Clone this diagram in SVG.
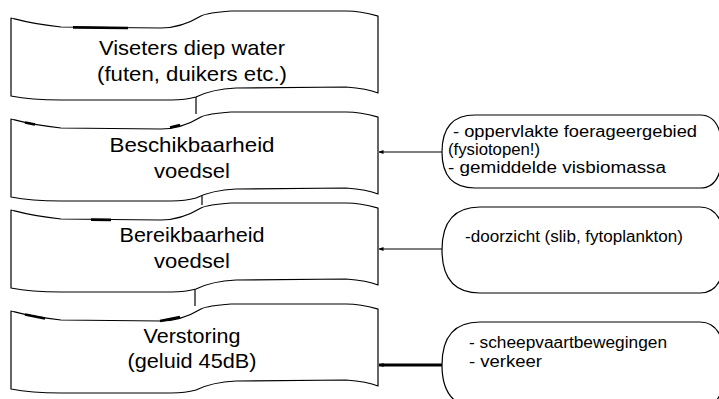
<svg xmlns="http://www.w3.org/2000/svg" xmlns:xlink="http://www.w3.org/1999/xlink" width="719" height="399" viewBox="0 0 719 399">
<style>
.shape{fill:#fff;stroke:#000;stroke-width:1.2;stroke-linejoin:round}
.thick{fill:none;stroke:#000;stroke-width:2.6}
.conn{fill:none;stroke:#000;stroke-width:1.2}
.bold{stroke-width:3}
.t{font-family:"Liberation Sans",Arial,sans-serif;font-size:21px;fill:#000;text-anchor:middle}
.c{font-family:"Liberation Sans",Arial,sans-serif;font-size:16px;fill:#000}
</style>
<defs>
<path id="tape" d="M0,0 C8,2 20,6 50,9 L150,10 C165,10 180,4 190,-2 C196,-5 205,-6 220,-7 L335,-7 C350,-7 360,-4 367,-2 L367,75 C360,72 350,70 335,69 L225,70 C205,71 195,74 185,79 C178,81 170,82 160,82 L50,82 C25,82 10,80 0,78 Z"/>
<marker id="dot" markerWidth="5" markerHeight="5" refX="4.5" refY="2.5" orient="auto" markerUnits="userSpaceOnUse">
<path d="M0,0.5 L5,2.5 L0,4.5 Z" fill="#000"/>
</marker>
</defs>
<rect width="719" height="399" fill="#fff"/>

<g id="connectors">
<line class="conn" x1="196" y1="90" x2="196" y2="114"/>
<line class="conn" x1="202" y1="189" x2="202" y2="205"/>
<line class="conn" x1="195" y1="285" x2="195" y2="306"/>
<line class="conn" x1="442" y1="152" x2="379" y2="152" marker-end="url(#dot)"/>
<line class="conn" x1="442" y1="249" x2="379" y2="249" marker-end="url(#dot)"/>
<line class="conn bold" x1="442" y1="365" x2="379" y2="365" marker-end="url(#dot)"/>
</g>

<g id="node-viseters" transform="translate(11,18)">
<use xlink:href="#tape" class="shape"/>
<path class="thick" d="M62,9.4 L117,10"/>
<text class="t" x="181" y="37" textLength="186" lengthAdjust="spacingAndGlyphs">Viseters diep water</text>
<text class="t" x="181" y="63" textLength="190" lengthAdjust="spacingAndGlyphs">(futen, duikers etc.)</text>
</g>

<g id="node-beschikbaarheid" transform="translate(11,119)">
<use xlink:href="#tape" class="shape"/>
<path class="thick" d="M14,3.5 L24,5.5 M159,8.5 L169,6"/>
<text class="t" x="181" y="33" textLength="165" lengthAdjust="spacingAndGlyphs">Beschikbaarheid</text>
<text class="t" x="181" y="59" textLength="76" lengthAdjust="spacingAndGlyphs">voedsel</text>
</g>

<g id="node-bereikbaarheid" transform="translate(11,210)">
<use xlink:href="#tape" class="shape"/>
<path class="thick" d="M80,9.6 L100,9.9"/>
<text class="t" x="181" y="32" textLength="145" lengthAdjust="spacingAndGlyphs">Bereikbaarheid</text>
<text class="t" x="181" y="58" textLength="76" lengthAdjust="spacingAndGlyphs">voedsel</text>
</g>

<g id="node-verstoring" transform="translate(11,311)">
<use xlink:href="#tape" class="shape"/>
<path class="thick" d="M14,3.5 L34,7.5 M149,10 L169,6"/>
<text class="t" x="181" y="32" textLength="97" lengthAdjust="spacingAndGlyphs">Verstoring</text>
<text class="t" x="181" y="57" textLength="129" lengthAdjust="spacingAndGlyphs">(geluid 45dB)</text>
</g>

<g id="note-voedsel">
<path class="shape" d="M475,115 L700,115 Q722,115 722,152 Q722,188 700,188 L475,188 Q442,188 442,152 Q442,115 475,115 Z"/>
<text class="c" x="453" y="137" textLength="244" lengthAdjust="spacingAndGlyphs">- oppervlakte foerageergebied</text>
<text class="c" x="448" y="155" textLength="92" lengthAdjust="spacingAndGlyphs">(fysiotopen!)</text>
<text class="c" x="448" y="173" textLength="218" lengthAdjust="spacingAndGlyphs">- gemiddelde visbiomassa</text>
</g>

<g id="note-doorzicht">
<path class="shape" d="M480,207 L700,207 Q725,207 725,250 Q725,293 700,293 L480,293 Q442,293 442,250 Q442,207 480,207 Z"/>
<text class="c" x="465" y="242" textLength="218" lengthAdjust="spacingAndGlyphs">-doorzicht (slib, fytoplankton)</text>
</g>

<g id="note-verstoring">
<path class="shape" d="M480,322 L700,322 Q725,322 725,365 Q725,408 700,408 L480,408 Q442,408 442,365 Q442,322 480,322 Z"/>
<text class="c" x="469" y="348" textLength="198" lengthAdjust="spacingAndGlyphs">- scheepvaartbewegingen</text>
<text class="c" x="469" y="367" textLength="73" lengthAdjust="spacingAndGlyphs">- verkeer</text>
</g>
</svg>
